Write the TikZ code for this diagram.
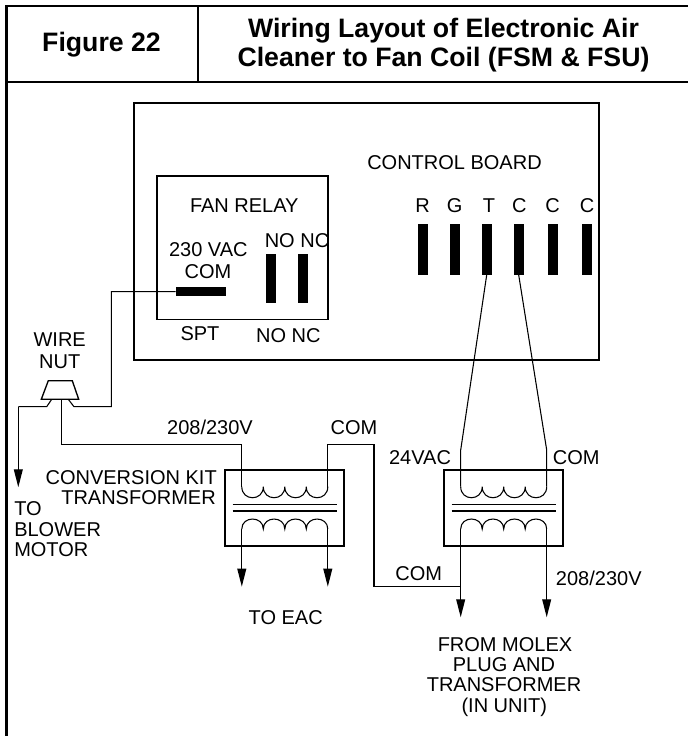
\documentclass[tikz,border=0pt]{standalone}
\usepackage{fontspec}
\setmainfont{Liberation Sans}
\usetikzlibrary{arrows.meta}
\tikzset{
  x=0.75pt,y=-0.75pt,
  heavy/.style={line width=1.6pt},
  wire/.style={line width=0.8pt,line join=miter},
  feed/.style={line width=1pt,-{Triangle[length=13.5pt,width=6.6pt]}},
  lbl/.style={font=\fontsize{15}{15}\selectfont,inner sep=0pt,anchor=base},
  lblr/.style={lbl,anchor=base east},
  lbll/.style={lbl,anchor=base west},
  head/.style={font=\fontsize{20}{20}\selectfont\bfseries,inner sep=0pt,anchor=base},
  tbar/.style={fill=black,inner sep=0pt,minimum width=7.3pt,minimum height=37.8pt},
  rbar/.style={fill=black,inner sep=0pt,minimum width=7.6pt,minimum height=37.2pt},
  cbar/.style={fill=black,inner sep=0pt,minimum width=37.8pt,minimum height=7pt},
  upcoil/.pic={\draw[wire] (0,0) .. controls (0,14.7) and (21.5,14.7) .. (21.5,0)
      .. controls (21.5,14.7) and (43,14.7) .. (43,0)
      .. controls (43,14.7) and (64.5,14.7) .. (64.5,0)
      .. controls (64.5,14.7) and (86,14.7) .. (86,0);},
  lowcoil/.pic={\draw[wire] (0,0) .. controls (0,-13.3) and (21.5,-13.3) .. (21.5,0)
      .. controls (21.5,-13.3) and (43,-13.3) .. (43,0)
      .. controls (43,-13.3) and (64.5,-13.3) .. (64.5,0)
      .. controls (64.5,-13.3) and (86,-13.3) .. (86,0);},
}
\begin{document}
\begin{tikzpicture}
\useasboundingbox (0,0) rectangle (688,736);
\fill[white] (0,0) rectangle (688,736);
% frame
\draw[heavy] (688,6) -- (6.5,6) -- (6.5,736);
\draw[heavy] (6.5,82) -- (688,82);
\draw[heavy] (198,6) -- (198,82);
\node[head] (fig) at (101.5,51.5) {Figure 22};
\node[head] (t1) at (443.5,37) {Wiring Layout of Electronic Air};
\node[head] (t2) at (443.5,66.5) {Cleaner to Fan Coil (FSM \& FSU)};
% board and relay
\draw[line width=1.3pt] (134,103.3) rectangle (598.7,360);
\draw[line width=1.3pt] (156.7,175.7) rectangle (327.7,319.5);
\node[lbl] (cb) at (454.5,169) {CONTROL BOARD};
\node[lbl] (fr) at (244.3,212.3) {FAN RELAY};
\node[lbl] (vac) at (208.3,256) {230 VAC};
\node[lbl] (com0) at (208,278.7) {COM};
\node[lbl] (nn1) at (297,247.3) {NO NC};
\node[lbl] (spt) at (200,340.7) {SPT};
\node[lbl] (nn2) at (288.3,342.7) {NO NC};
\node[cbar] (bcom) at (201.2,291.6) {};
\node[rbar] (bno) at (270.8,278.5) {};
\node[rbar] (bnc) at (302.7,278.5) {};
\node[tbar] (tR) at (422.7,249.5) {};
\node[tbar] (tG) at (454.8,249.5) {};
\node[tbar] (tT) at (486.7,249.5) {};
\node[tbar] (tC) at (518.7,249.5) {};
\node[tbar] (tCb) at (552.8,249.5) {};
\node[tbar] (tCc) at (587,249.5) {};
\node[lbl] (lR) at (422.7,212) {R};
\node[lbl] (lG) at (454.7,212) {G};
\node[lbl] (lT) at (489,212) {T};
\node[lbl] (lC) at (519.3,212) {C};
\node[lbl] (lCb) at (552.7,212) {C};
\node[lbl] (lCc) at (587,212) {C};
% wire nut
\coordinate (nA) at (41.3,399.3);
\coordinate (nB) at (48.3,380.7);
\coordinate (nC) at (72.3,380.7);
\coordinate (nD) at (78.7,399.3);
\coordinate (nL) at (51.7,399.3);
\coordinate (nM) at (61.7,399.3);
\coordinate (nR) at (68.3,399.3);
\draw[line width=1pt] (nA) -- (nB) -- (nC) -- (nD) -- cycle;
\node[lbl] (wn1) at (59.7,346.7) {WIRE};
\node[lbl] (wn2) at (59.7,368.7) {NUT};
% blower wire
\coordinate (blow) at (18.3,487.3);
\draw[wire] (nL) -- (46.7,406.7) -- (18.3,406.7);
\draw[feed] (18.3,406.7) -- (blow);
\node[lbll] (b1) at (14,515.7) {TO};
\node[lbll] (b2) at (14,536.7) {BLOWER};
\node[lbll] (b3) at (14,556.7) {MOTOR};
% nut to relay
\draw[wire] (nR) -- (74,406.7) -- (111.3,406.7) -- (111.3,291.6) -- (bcom.west);
% left transformer
\draw[line width=1.3pt] (225.3,470) rectangle (344.3,546);
\pic at (241.8,486.7) {upcoil};
\pic at (241.8,529) {lowcoil};
\draw[line width=0.9pt] (232.5,504.7) -- (337,504.7);
\draw[line width=0.9pt] (232.5,511) -- (337,511);
\coordinate (a1) at (241.8,486.7);
\coordinate (a2) at (327.8,486.7);
\coordinate (a3) at (241.8,529);
\coordinate (a4) at (327.8,529);
\coordinate (eac1) at (241.8,586.7);
\coordinate (eac2) at (327.8,586.7);
\draw[wire] (nM) -- (61.7,444.7) -- (241.8,444.7) -- (a1);
\draw[feed] (a3) -- (eac1);
\draw[feed] (a4) -- (eac2);
\node[lbl] (v1) at (210,434.3) {208/230V};
\node[lbl] (c1) at (354,434.3) {COM};
\node[lblr] (k1) at (217,484.7) {CONVERSION KIT};
\node[lblr] (k2) at (216,504.7) {TRANSFORMER};
\node[lbl] (eac) at (285.7,624.7) {TO EAC};
% right transformer
\draw[line width=1.3pt] (444,470) rectangle (563.3,546);
\pic at (460.7,486.7) {upcoil};
\pic at (460.7,529) {lowcoil};
\draw[line width=0.9pt] (451.7,504.7) -- (556,504.7);
\draw[line width=0.9pt] (451.7,511) -- (556,511);
\coordinate (b1a) at (460.7,486.7);
\coordinate (b2a) at (546.7,486.7);
\coordinate (b3a) at (460.7,529);
\coordinate (b4a) at (546.7,529);
\coordinate (m1) at (460.7,617.3);
\coordinate (m2) at (546.7,617.3);
\draw[wire] (tT.south) -- (460.7,450) -- (b1a);
\draw[wire] (tC.south) -- (546.7,450) -- (b2a);
\draw[feed] (b3a) -- (m1);
\draw[feed] (b4a) -- (m2);
% COM link
\draw[wire] (a2) -- (327.8,444.7) -- (374,444.7) -- (374,586.7) -- (460.7,586.7);
\node[lbl] (v24) at (420,464) {24VAC};
\node[lbl] (c2) at (576.3,464) {COM};
\node[lbl] (c3) at (418.7,580) {COM};
\node[lbll] (v2) at (555.7,585) {208/230V};
\node[lbl] (m1t) at (505,651.7) {FROM MOLEX};
\node[lbl] (m2t) at (504,671.7) {PLUG AND};
\node[lbl] (m3t) at (504,691.7) {TRANSFORMER};
\node[lbl] (m4t) at (504.3,712.7) {(IN UNIT)};
\end{tikzpicture}
\end{document}
